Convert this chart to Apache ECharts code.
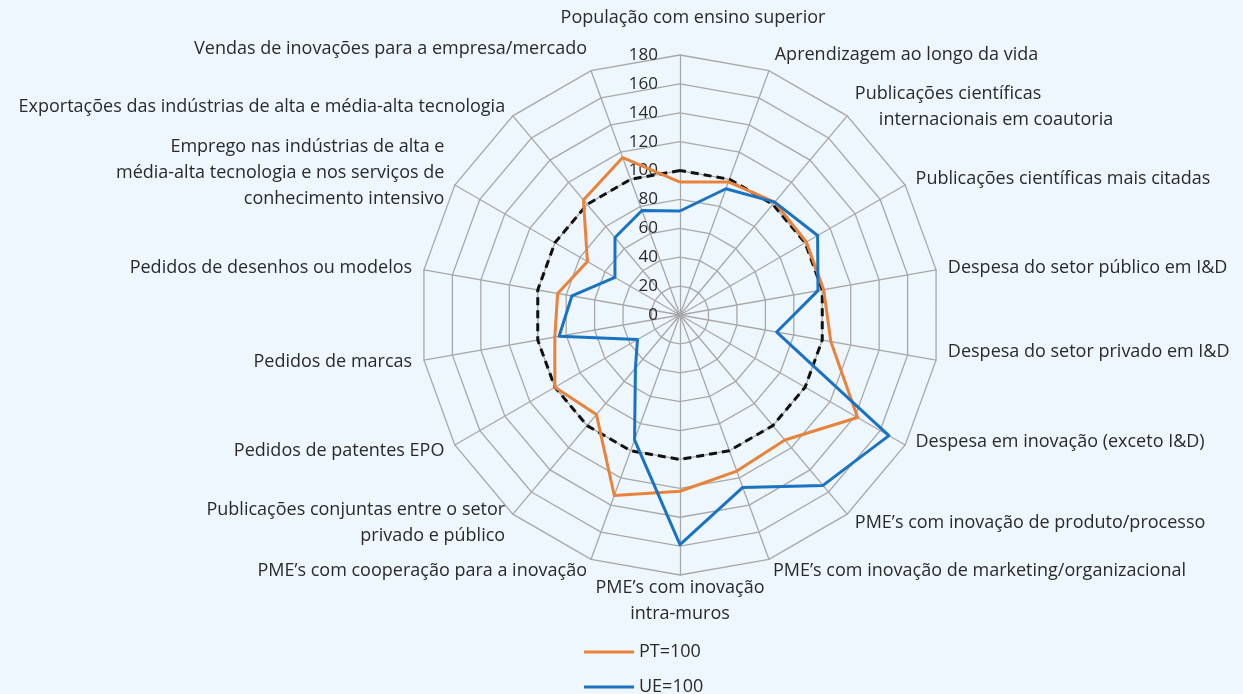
<!DOCTYPE html>
<html>
<head>
<meta charset="utf-8">
<title>Radar</title>
<script src="https://cdn.jsdelivr.net/npm/echarts@6/dist/echarts.min.js"></script>
<style>
    html, body {margin: 0; padding: 0; background: #EEF7FD;}
    #myRadar {width: 1243px; height: 694px;}
</style>
</head>
<body>
<div id="myRadar"></div>
<script>
// indicadores, no sentido dos ponteiros do relógio a partir do topo
var categories = [
    'População com ensino superior',
    'Aprendizagem ao longo da vida',
    'Publicações científicas\ninternacionais em coautoria',
    'Publicações científicas mais citadas',
    'Despesa do setor público em I&D',
    'Despesa do setor privado em I&D',
    'Despesa em inovação (exceto I&D)',
    'PME’s com inovação de produto/processo',
    'PME’s com inovação de marketing/organizacional',
    'PME’s com inovação\nintra-muros',
    'PME’s com cooperação para a inovação',
    'Publicações conjuntas entre o setor\nprivado e público',
    'Pedidos de patentes EPO',
    'Pedidos de marcas',
    'Pedidos de desenhos ou modelos',
    'Emprego nas indústrias de alta e\nmédia-alta tecnologia e nos serviços de\nconhecimento intensivo',
    'Exportações das indústrias de alta e média-alta tecnologia',
    'Vendas de inovações para a empresa/mercado'
];
var ptValues = [92, 98, 102, 101, 101, 106, 142, 113, 115, 122, 133, 90, 100, 88, 86, 74, 104, 116];
var ueValues = [72, 93, 102, 110, 97, 68, 167, 154, 127, 159, 92, 48, 34, 85, 76, 52, 70, 77];
var refValues = [100, 100, 100, 100, 100, 100, 100, 100, 100, 100, 100, 100, 100, 100, 100, 100, 100, 100];
var tickLabels = ['0', '20', '40', '60', '80', '100', '120', '140', '160', '180'];
var seriesNames = ['PT=100', 'UE=100'];

// ajustes finos da posição de alguns nomes (índice no sentido horário)
var nameTweaks = {
    0: {nameGap: 24, padding: [0, 0, 0, 26]},
    1: {nameGap: 17},
    5: {padding: [0, 0, 20, 0]},
    6: {padding: [0, 0, 18, 0]},
    9: {nameGap: 0},
    15: {padding: [0, 0, 12, 0]},
    17: {padding: [0, 0, 22, 0]}
};

// echarts desenha o radar no sentido anti-horário: inverter a ordem
var order = [0];
for (var i = categories.length - 1; i > 0; i--) order.push(i);
function reorder(arr) {
    return order.map(function (k) { return arr[k]; });
}

var myChart = echarts.init(document.getElementById('myRadar'));
var option = {
    backgroundColor: '#EEF7FD',
    textStyle: {fontFamily: 'Open Sans'},
    legend: {
        data: seriesNames,
        orient: 'vertical',
        left: 584,
        top: 643,
        height: 60,
        padding: 0,
        itemGap: 17,
        itemWidth: 50,
        itemHeight: 3,
        icon: 'rect',
        textStyle: {fontSize: 18, color: '#2a2a2a'}
    },
    radar: {
        center: [680, 315],
        radius: 260,
        startAngle: 90,
        shape: 'polygon',
        splitNumber: 9,
        nameGap: 12,
        axisName: {
            color: '#2a2a2a',
            fontSize: 18,
            lineHeight: 26,
            formatter: function (name) {
                // a 2a linha deste nome está recuada no original
                if (name === categories[2]) {
                    var parts = name.split('\n');
                    return '{a|' + parts[0] + '}\n{b|' + parts[1] + '}';
                }
                return name;
            },
            rich: {
                a: {fontSize: 18, lineHeight: 26, color: '#2a2a2a'},
                b: {fontSize: 18, lineHeight: 26, color: '#2a2a2a', padding: [0, 0, 0, 24]}
            }
        },
        indicator: order.map(function (k, idx) {
            var ind = {name: categories[k], min: 0, max: 180};
            var tw = nameTweaks[k];
            if (tw) {
                if (tw.nameGap != null) ind.nameGap = tw.nameGap;
                if (tw.padding) ind.nameTextStyle = {padding: tw.padding};
            }
            // só o primeiro eixo mostra os valores
            if (idx === 0) {
                ind.axisLabel = {
                    show: true,
                    color: '#2a2a2a',
                    fontSize: 17,
                    margin: 22,
                    formatter: function (v) {
                        return tickLabels[Math.round(v / 20)];
                    }
                };
            }
            return ind;
        }),
        axisLabel: {show: false},
        axisLine: {lineStyle: {color: '#a8a8a8', width: 1.3}},
        splitLine: {lineStyle: {color: '#a8a8a8', width: 1.3}},
        splitArea: {show: false}
    },
    series: [{
        type: 'radar',
        symbol: 'none',
        silent: true,
        data: [
            {
                name: 'ref',
                value: reorder(refValues),
                lineStyle: {color: '#111', width: 3, type: [8, 5]},
                itemStyle: {color: '#111'}
            },
            {
                name: seriesNames[0],
                value: reorder(ptValues),
                lineStyle: {color: '#E9823A', width: 3},
                itemStyle: {color: '#E9823A'}
            },
            {
                name: seriesNames[1],
                value: reorder(ueValues),
                lineStyle: {color: '#1A73C2', width: 3},
                itemStyle: {color: '#1A73C2'}
            }
        ]
    }]
};
myChart.setOption(option);
</script>
</body>
</html>
